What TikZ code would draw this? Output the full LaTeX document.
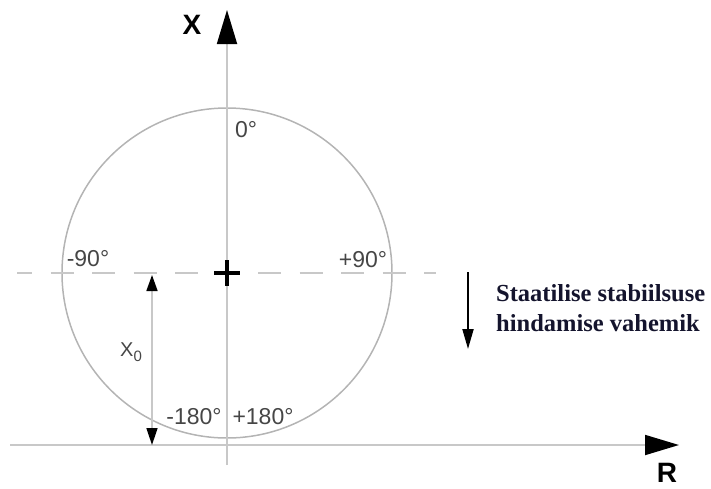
\documentclass[tikz,border=0pt]{standalone}
\usepackage{fontspec}
\setmainfont{Liberation Sans}
\newfontfamily\serifbold{Liberation Serif}
\usetikzlibrary{arrows.meta,calc}
\definecolor{axisgray}{RGB}{200,200,200}
\definecolor{circgray}{RGB}{180,180,180}
\definecolor{lblgray}{RGB}{70,70,70}
\definecolor{navytext}{RGB}{20,20,45}
\begin{document}
\begin{tikzpicture}[x=1pt,y=-1pt,
  axis/.style={draw=axisgray,line width=1.8pt},
  bigtip/.style={-{Triangle[length=34pt,width=20pt,color=black]}},
  lbl/.style={text=lblgray,font=\fontsize{23}{23}\selectfont,inner sep=0pt},
  axlbl/.style={text=black,font=\fontsize{28}{28}\selectfont\bfseries,inner sep=0pt}]
\useasboundingbox (0,0) rectangle (711,488);
% coordinates
\coordinate (O) at (227,273);
\coordinate (xbot) at (227,465);
\coordinate (xtop) at (227,10);
\coordinate (rleft) at (10,445);
\coordinate (rright) at (679,445);
\coordinate (dl) at (17,273);
\coordinate (dr) at (436,273);
\coordinate (x0top) at (152,275);
\coordinate (x0bot) at (152,445);
\coordinate (atop) at (468,272);
\coordinate (abot) at (468,349);
% circle
\draw[circgray,line width=1.5pt] (O) circle[radius=165];
% dashed line
\draw[axisgray,line width=1.6pt,dash pattern=on 23pt off 18.5pt,dash phase=8pt] (dl) -- (dr);
% axes
\draw[axis,bigtip] (xbot) -- (xtop);
\draw[axis,bigtip] (rleft) -- (rright);
% center plus
\draw[black,line width=4pt] ($(O)+(-13,0)$) -- ($(O)+(13,0)$);
\draw[black,line width=4pt] ($(O)+(0,-13)$) -- ($(O)+(0,13)$);
% X0 dimension arrow
\draw[axisgray,line width=1.6pt,{Triangle[length=16pt,width=11pt,color=black]}-{Triangle[length=17pt,width=11pt,color=black]}] (x0top) -- (x0bot);
% down arrow
\draw[black,line width=2pt,-{Triangle[length=20pt,width=11pt]}] (atop) -- (abot);
% labels
\node[axlbl] (lx) at (192,25) {X};
\node[axlbl] (lr) at (667,473) {R};
\node[lbl] (l0) at (246,130) {0°};
\node[lbl] (lm90) at (88,259) {-90°};
\node[lbl] (lp90) at (363,260) {+90°};
\node[lbl] (lm180) at (194,417) {-180°};
\node[lbl] (lp180) at (263,417) {+180°};
\node[text=lblgray,font=\fontsize{20}{20}\selectfont,inner sep=0pt] (lx0) at (131,352) {X\raisebox{-5pt}{\fontsize{15}{15}\selectfont 0}};
\node[text=navytext,font=\serifbold\bfseries\fontsize{24.5}{30}\selectfont,align=left,anchor=west,inner sep=0pt] (txt) at (496,308) {Staatilise stabiilsuse\\hindamise vahemik};
\end{tikzpicture}
\end{document}
